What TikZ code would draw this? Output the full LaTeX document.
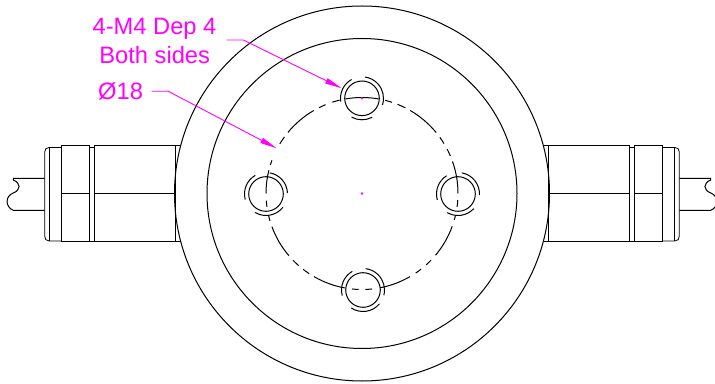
\documentclass[tikz,border=0pt]{standalone}
\usepackage{fontspec}
\setmainfont{Liberation Sans}
\usetikzlibrary{arrows.meta}
\definecolor{dimcol}{RGB}{255,0,255}
\tikzset{
  part/.style={draw=black,line width=1pt},
  centreline/.style={draw=black,line width=1pt},
  thread/.style={draw=black,line width=1pt},
  leaderline/.style={draw=dimcol,line width=0.9pt,-{Triangle[length=17pt,width=5.5pt,fill=dimcol]}},
  dimtext/.style={text=dimcol,font=\fontsize{23.7pt}{26pt}\selectfont,anchor=base,inner sep=0pt},
  dimdot/.style={fill=dimcol,draw=none}
}
\begin{document}
\begin{tikzpicture}[x=1pt,y=1pt]
\useasboundingbox (0,0) rectangle (715,383);
\coordinate (C) at (362,189.5);
\coordinate (HT) at (362,284.7);
\coordinate (HL) at (266,189);
\coordinate (HR) at (458,189);
\coordinate (HB) at (363,93);
% main circles
\draw[part] (C) circle[radius=187.5pt];
\draw[part] (C) circle[radius=155pt];
% bolt circle
\foreach \a/\b in {0/19.5,23/27.5,31.3/35.8,39.4/59.8,63.2/68.3,71.8/76,80/100,103.5/108,112.3/116.6,120.2/140.5,143.9/148.9,159.8/162.7,166/180,184.3/188,193/196.6,200.2/220.4,224/228.7,232.2/236.6,240/260,264/268,272/276,280.8/300,304/308,312/316,320/340,344/347,352/356}{
  \draw[centreline] ([shift={(\a:96pt)}]C) arc[start angle=\a,end angle=\b,radius=96pt];
}
% holes
\foreach \h/\aa/\ab/\ba/\bb/\ca/\cb in {HT/119/189/-18/82/241/298,HL/120/195/3/80/239/322,HR/122/196/-3/80/240/317,HB/120/195/-14/83/237/320}{
  \draw[part] (\h) circle[radius=17.3pt];
  \draw[thread] ([shift={(\aa:21.5pt)}]\h) arc[start angle=\aa,end angle=\ab,radius=21.5pt];
  \draw[thread] ([shift={(\ba:21.5pt)}]\h) arc[start angle=\ba,end angle=\bb,radius=21.5pt];
  \draw[thread] ([shift={(\ca:21.5pt)}]\h) arc[start angle=\ca,end angle=\cb,radius=21.5pt];
}
% connectors, left and mirrored right
\foreach \sh/\sc in {0pt/1,724pt/-1}{
\begin{scope}[xshift=\sh,xscale=\sc]
  \draw[part] (181,237) -- (94.3,237) -- (94.3,141) -- (181,141);
  \draw[part] (175.3,237) -- (175.3,141);
  \draw[part] (94.3,189) -- (175.3,189);
  \draw[part] (61.3,141) rectangle (89.3,237);
  \draw[part] (61.3,189) -- (89.3,189);
  \draw[part,line width=0.8pt] (89.3,235.5) -- (94.3,235.5);
  \draw[part,line width=0.8pt] (89.3,142) -- (94.3,142);
  \draw[part,line width=0.8pt] (61.3,235.5) -- (49,235.5) .. controls (46,235.5) and (44.7,233.5) .. (44.7,231) -- (44.7,147) .. controls (44.7,144) and (46,142) .. (49,142) -- (61.3,142);
  \draw[part] (49.7,235.5) -- (49.7,142);
  \draw[part] (44.7,204.7) -- (13.3,204.7) -- (13.3,203) .. controls (21,200) and (21,193) .. (13.3,190) .. controls (5,187) and (5,176) .. (13.3,172.7) -- (44.7,172.7);
\end{scope}
}
% leaders
\node[dimtext] (t1) at (154.5,348) {4-M4 Dep 4};
\node[dimtext] (t2) at (154.7,319.7) {Both sides};
\node[dimtext] (t3) at (120.6,283) {Ø18};
\coordinate (la) at (226.7,343);
\coordinate (lb) at (243.3,343);
\coordinate (lc) at (341.7,294.7);
\coordinate (ld) at (151.7,291.7);
\coordinate (le) at (168.3,291.7);
\coordinate (lf) at (276.7,234.7);
\draw[leaderline] (la) -- (lb) -- (lc);
\draw[leaderline] (ld) -- (le) -- (lf);
\fill[dimdot] (C) circle[radius=1.4pt];
\fill[dimdot] (HT) circle[radius=1.4pt];
\end{tikzpicture}
\end{document}
